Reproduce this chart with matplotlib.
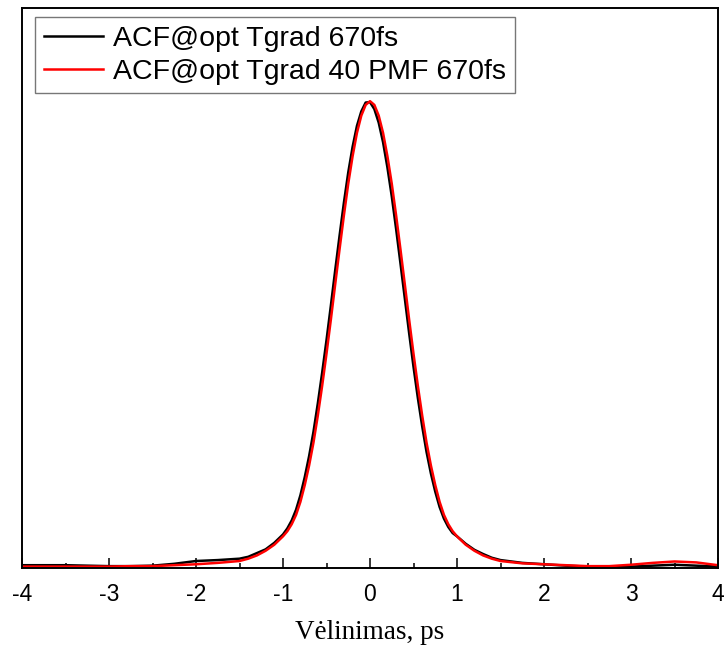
import matplotlib
matplotlib.use("Agg")
import matplotlib.pyplot as plt
from matplotlib.ticker import MultipleLocator

plt.rcParams["axes.unicode_minus"] = False

# ------------------ Data ------------------
delay = [-4.0, -3.75, -3.5, -3.25, -3.0, -2.75, -2.5, -2.25, -2.0, -1.75,
         -1.5, -1.4, -1.3, -1.2, -1.1, -1.0,
         -0.95, -0.9, -0.85, -0.8, -0.75, -0.7, -0.65, -0.6, -0.55, -0.5,
         -0.45, -0.4, -0.35, -0.3, -0.25, -0.2, -0.15, -0.1, -0.05, 0.0,
         0.05, 0.1, 0.15, 0.2, 0.25, 0.3, 0.35, 0.4, 0.45, 0.5,
         0.55, 0.6, 0.65, 0.7, 0.75, 0.8, 0.85, 0.9, 0.95,
         1.0, 1.1, 1.2, 1.3, 1.4, 1.5,
         1.75, 2.0, 2.25, 2.5, 2.75, 3.0, 3.25, 3.5, 3.75, 4.0]

acf_tgrad = [0.004, 0.004, 0.004, 0.003, 0.002, 0.002, 0.003, 0.007, 0.013, 0.015,
             0.018, 0.022, 0.030, 0.038, 0.052, 0.070,
             0.083, 0.100, 0.123, 0.154, 0.193, 0.238, 0.290, 0.351, 0.417, 0.487,
             0.561, 0.637, 0.711, 0.782, 0.847, 0.902, 0.947, 0.978, 0.997, 0.998,
             0.983, 0.954, 0.912, 0.858, 0.796, 0.726, 0.652, 0.577, 0.502, 0.430,
             0.363, 0.302, 0.247, 0.201, 0.162, 0.129, 0.104, 0.086, 0.073,
             0.066, 0.050, 0.037, 0.028, 0.020, 0.015,
             0.009, 0.006, 0.003, 0.001, 0.001, 0.001, 0.003, 0.005, 0.003, 0.001]

acf_pmf = [0.001, 0.001, 0.001, 0.001, 0.001, 0.002, 0.002, 0.004, 0.006, 0.009,
           0.013, 0.018, 0.025, 0.035, 0.048, 0.066,
           0.077, 0.092, 0.112, 0.140, 0.176, 0.218, 0.267, 0.325, 0.389, 0.458,
           0.531, 0.607, 0.682, 0.755, 0.823, 0.882, 0.932, 0.969, 0.992, 1.000,
           0.992, 0.969, 0.932, 0.882, 0.823, 0.755, 0.682, 0.607, 0.531, 0.458,
           0.389, 0.325, 0.267, 0.218, 0.176, 0.140, 0.112, 0.092, 0.077,
           0.066, 0.048, 0.035, 0.025, 0.018, 0.013,
           0.008, 0.006, 0.004, 0.002, 0.002, 0.005, 0.009, 0.012, 0.010, 0.004]

labels = ["ACF@opt Tgrad 670fs", "ACF@opt Tgrad 40 PMF 670fs"]
x_label = "Vėlinimas, ps"

# ------------------ Plot ------------------
fig = plt.figure(figsize=(7.26, 6.45), dpi=100)
ax = fig.add_axes([22 / 726, 1 - 568 / 645, 696 / 726, 560 / 645])

ax.plot(delay, acf_tgrad, color="black", linewidth=1.8, label=labels[0])
ax.plot(delay, acf_pmf, color="red", linewidth=1.8, label=labels[1])

ax.set_xlim(-4, 4)
ax.set_ylim(-0.002, 1.2)

ax.xaxis.set_major_locator(MultipleLocator(1))
ax.xaxis.set_minor_locator(MultipleLocator(0.5))
ax.tick_params(axis="x", which="major", direction="in", length=7, width=1.1,
               labelsize=16.5, pad=11)
ax.tick_params(axis="x", which="minor", direction="in", length=3.5, width=1.1)
ax.set_yticks([])
for lbl in ax.get_xticklabels():
    lbl.set_fontfamily("Liberation Sans")

for spine in ax.spines.values():
    spine.set_linewidth(1.4)

ax.set_xlabel(x_label, fontsize=19.5, family="Liberation Serif", labelpad=10)

leg = ax.legend(loc="upper left", bbox_to_anchor=(0.0187, 0.984), borderaxespad=0,
                prop={"family": "Liberation Sans", "size": 20.5},
                fancybox=False, edgecolor="#777777", framealpha=1,
                handlelength=2.1, handletextpad=0.35, borderpad=0.3,
                labelspacing=0.25)
leg.get_frame().set_linewidth(1.0)

fig.savefig("out.png", dpi=100)
